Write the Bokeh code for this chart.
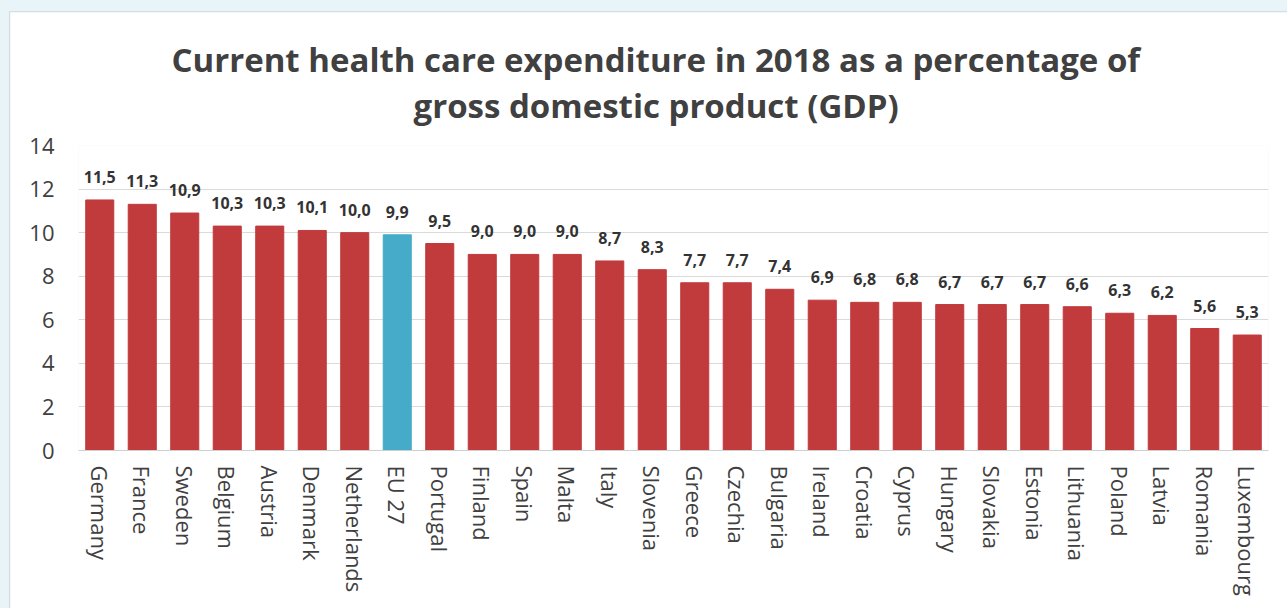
from bokeh.plotting import figure
from bokeh.models import ColumnDataSource, LabelSet, Title, FactorRange, Range1d, FixedTicker
from bokeh.layouts import column
from bokeh.core.properties import value
from bokeh.embed import file_html
from bokeh.resources import INLINE

countries = ["Germany", "France", "Sweden", "Belgium", "Austria", "Denmark", "Netherlands",
             "EU 27", "Portugal", "Finland", "Spain", "Malta", "Italy", "Slovenia", "Greece",
             "Czechia", "Bulgaria", "Ireland", "Croatia", "Cyprus", "Hungary", "Slovakia",
             "Estonia", "Lithuania", "Poland", "Latvia", "Romania", "Luxembourg"]
values = [11.5, 11.3, 10.9, 10.3, 10.3, 10.1, 10.0, 9.9, 9.5, 9.0, 9.0, 9.0, 8.7, 8.3, 7.7,
          7.7, 7.4, 6.9, 6.8, 6.8, 6.7, 6.7, 6.7, 6.6, 6.3, 6.2, 5.6, 5.3]
y_ticks = [0, 2, 4, 6, 8, 10, 12, 14]
highlight = "EU 27"

RED = "#c13a3c"
BLUE = "#45abc8"
FONT = "Open Sans"
TXT = "#404040"

labels = [f"{v:.1f}".replace(".", ",") for v in values]
colors = [BLUE if c == highlight else RED for c in countries]
src = ColumnDataSource(dict(x=countries, top=values, lab=labels, color=colors))

p = figure(x_range=FactorRange(*countries), y_range=Range1d(0, 14),
           width=1278, height=597, output_backend="svg", toolbar_location=None,
           min_border_left=68, min_border_right=20, min_border_bottom=159, min_border_top=133)

p.vbar(x="x", top="top", width=0.66, color="color", source=src)

p.add_layout(LabelSet(x="x", y="top", text="lab", source=src, y_offset=23,
                      text_align="center", text_baseline="middle",
                      text_font=value(FONT), text_font_size="16px", text_font_style="bold",
                      text_color="#333333"))

t2 = Title(text="gross domestic product (GDP)", align="left", offset=335,
           text_font=FONT, text_font_size="33px", text_font_style="bold",
           text_color=TXT, standoff=35)
t1 = Title(text="Current health care expenditure in 2018 as a percentage of", align="left",
           offset=93, text_font=FONT, text_font_size="33px", text_font_style="bold",
           text_color=TXT, standoff=-36)
p.add_layout(t2, "above")
p.add_layout(t1, "above")

p.background_fill_color = "white"
p.border_fill_color = "white"
p.outline_line_color = None

p.xgrid.grid_line_color = None
p.ygrid.grid_line_color = "#dadada"
p.ygrid.ticker = FixedTicker(ticks=y_ticks)

p.yaxis.ticker = FixedTicker(ticks=y_ticks)
p.yaxis.axis_line_color = None
p.yaxis.major_tick_line_color = None
p.yaxis.minor_tick_line_color = None
p.yaxis.major_label_text_font = FONT
p.yaxis.major_label_text_font_size = "22px"
p.yaxis.major_label_text_color = TXT
p.yaxis.major_label_standoff = 18

p.xaxis.axis_line_color = "#cfcfcf"
p.xaxis.major_tick_line_color = None
p.xaxis.minor_tick_line_color = None
p.xaxis.major_label_orientation = "vertical"
p.xaxis.major_label_text_font = FONT
p.xaxis.major_label_text_font_size = "22px"
p.xaxis.major_label_text_color = TXT
p.xaxis.major_label_standoff = 9

p.styles = {"border-top": "1px solid #d5dfe3", "border-left": "1px solid #d5dfe3"}

layout = column(p, styles={"background-color": "#e8f4f8", "padding-left": "9px",
                           "padding-top": "11px"})

open("out.html", "w").write(file_html(layout, INLINE))
